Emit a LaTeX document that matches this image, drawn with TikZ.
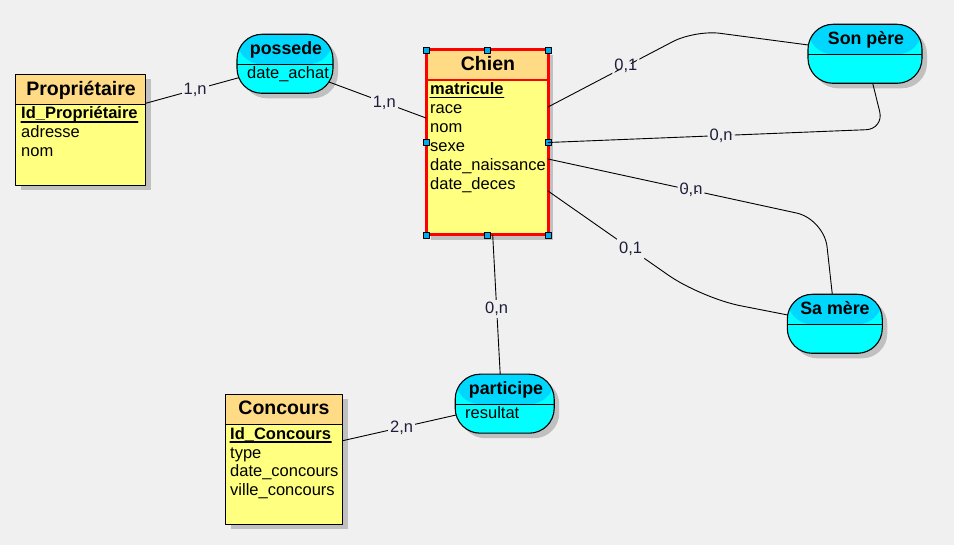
\documentclass[tikz,border=0pt]{standalone}
\usepackage{fontspec}
\setmainfont{Liberation Sans}
\usepackage{tikz}
\definecolor{pagebg}{HTML}{F0F0F0}
\definecolor{enthead}{HTML}{FFDB85}
\definecolor{entbody}{HTML}{FFFF80}
\definecolor{relhead}{HTML}{00D7FF}
\definecolor{relbody}{HTML}{00FFFF}
\definecolor{shade}{HTML}{C0C0C0}
\definecolor{cardtext}{HTML}{1E1E3C}
\pgfdeclarelayer{paper}
\pgfdeclarelayer{shadow}
\pgfsetlayers{paper,shadow,main}

\newcommand{\entfont}{\fontsize{19.5}{22}\selectfont\bfseries}
\newcommand{\relfont}{\fontsize{17.8}{20}\selectfont\bfseries}
\newcommand{\attfont}{\fontsize{16.5}{19}\selectfont}

\begin{document}
\begin{tikzpicture}[line cap=round,line join=round,x=1pt,y=-1pt,
    box/.style={draw=black,line width=1.1pt,inner sep=0pt,outer sep=0pt,fill=#1},
    entity/.style={box=entbody,
        path picture={\fill[enthead] (path picture bounding box.north west) rectangle ([yshift=-30pt]path picture bounding box.north east);
            \draw[line width=1.1pt] ([yshift=-30pt]path picture bounding box.north west) -- ([yshift=-30pt]path picture bounding box.north east);}},
    relation/.style={box=relbody,rounded corners=25pt,minimum height=59pt,
        path picture={\fill[relhead] (path picture bounding box.north west) rectangle ([yshift=-30pt]path picture bounding box.north east);
            \draw[line width=1.1pt] ([yshift=-30pt]path picture bounding box.north west) -- ([yshift=-30pt]path picture bounding box.north east);}},
    ename/.style={anchor=base,inner sep=0pt,font=\entfont},
    rname/.style={anchor=base,inner sep=0pt,font=\relfont},
    attr/.style={anchor=base west,inner sep=0pt,font=\attfont},
    keyattr/.style={attr,font=\attfont\bfseries},
    keyline/.style={line width=1.2pt},
    handle/.style={fill=cyan,draw=black,line width=0.8pt},
    shadowfill/.style={fill=shade},
    link/.style={draw=black,line width=0.9pt},
    card/.style={fill=pagebg,inner sep=2pt,font=\attfont,text=cardtext}]

    \useasboundingbox (0,0) rectangle (954,545);
    \begin{pgfonlayer}{paper}
        \fill[pagebg] (0,0) rectangle (954,545);
    \end{pgfonlayer}
	%\draw [step=10pt] (0,0) grid (954,545);

    % entites
    \node[entity,minimum width=130pt,minimum height=111pt] (prop) at (80.7,129.7) {};
    \node[ename] (prop-t) at (81,96) {Propriétaire};
    \node[keyattr] (prop-k) at (21,119) {Id\_Propriétaire};
    \draw[keyline] ([yshift=-3pt]prop-k.base west) -- ([yshift=-3pt]prop-k.base east);
    \node[attr] (prop-a1) at (21,138) {adresse};
    \node[attr] (prop-a2) at (21,157) {nom};

    \node[entity,draw=red,line width=3pt,minimum width=122pt,minimum height=185pt] (chien) at (487,142.5) {};
    \node[ename] (chien-t) at (488,71) {Chien};
    \node[keyattr] (chien-k) at (430,94.5) {matricule};
    \draw[keyline] ([yshift=-2.8pt]chien-k.base west) -- ([yshift=-2.8pt]chien-k.base east);
    \node[attr] (chien-a1) at (430,113.5) {race};
    \node[attr] (chien-a2) at (430,132.5) {nom};
    \node[attr] (chien-a3) at (430,151.5) {sexe};
    \node[attr] (chien-a4) at (430,170.5) {date\_naissance};
    \node[attr] (chien-a5) at (430,189.5) {date\_deces};
    \foreach \a in {north west,north,north east,east,south east,south,south west,west}
        \filldraw[handle] ([xshift=-3pt,yshift=-3pt]chien.\a) rectangle +(6pt,6pt);

    \node[entity,minimum width=117pt,minimum height=130pt] (concours) at (284.2,459.2) {};
    \node[ename] (concours-t) at (284,415) {Concours};
    \node[keyattr] (concours-k) at (230,439) {Id\_Concours};
    \draw[keyline] ([yshift=-3pt]concours-k.base west) -- ([yshift=-3pt]concours-k.base east);
    \node[attr] (concours-a1) at (230,458) {type};
    \node[attr] (concours-a2) at (230,477) {date\_concours};
    \node[attr] (concours-a3) at (230,496) {ville\_concours};

    % associations
    \node[relation,minimum width=96pt] (possede) at (285,63.8) {};
    \node[rname] (possede-t) at (286,55) {possede};
    \node[attr] (possede-a1) at (247,79) {date\_achat};

    \node[relation,minimum width=114pt] (pere) at (865,53.8) {};
    \node[rname] (pere-t) at (866,45) {Son père};

    \node[relation,minimum width=95pt] (mere) at (834.8,323.8) {};
    \node[rname] (mere-t) at (835,315) {Sa mère};

    \node[relation,minimum width=99pt] (participe) at (504.7,403.7) {};
    \node[rname] (participe-t) at (506,395) {participe};
    \node[attr] (participe-a1) at (465,419) {resultat};

    % ombres
    \begin{pgfonlayer}{shadow}
        \foreach \n in {prop,chien,concours}
            \fill[shadowfill] ([shift={(5pt,-5pt)}]\n.south west) rectangle ([shift={(5pt,-5pt)}]\n.north east);
        \foreach \n in {possede,pere,mere,participe}
            \fill[shadowfill,rounded corners=25pt] ([shift={(5pt,-5pt)}]\n.south west) rectangle ([shift={(5pt,-5pt)}]\n.north east);
    \end{pgfonlayer}

    % liens
    \draw[link] ([yshift=26.4pt]prop.east) -- node[card,pos=0.53] (c1) {1,n} ([xshift=-46.2pt,yshift=-13.9pt]possede.center);
    \draw[link] ([xshift=44pt,yshift=-18.2pt]possede.center) -- node[card,pos=0.57] (c2) {1,n} ([yshift=24.5pt]chien.west);
    \draw[link,rounded corners=25pt] ([yshift=35.5pt]chien.east) -- node[card,pos=0.53] (c3) {0,1} (695,30) -- ([xshift=-56.6pt,yshift=8.8pt]pere.center);
    \draw[link,rounded corners=18pt] (chien.east) -- node[card,pos=0.515] (c4) {0,n} (884,129) -- ([xshift=7.7pt]pere.south);
    \draw[link,rounded corners=28pt] ([yshift=-16.5pt]chien.east) -- node[card,pos=0.518] (c5) {0,n} (824,219) -- ([xshift=-2.5pt]mere.north);
    \draw[link,rounded corners=40pt] ([yshift=-48.5pt]chien.east) -- node[card,pos=0.54] (c6) {0,1} (701,298) -- ([xshift=-47.1pt,yshift=8.8pt]mere.center);
    \draw[link] ([xshift=5.7pt]chien.south) -- node[card,pos=0.53] (c7) {0,n} ([xshift=-4.5pt]participe.north);
    \draw[link] ([yshift=18.5pt]concours.east) -- node[card,pos=0.52] (c8) {2,n} ([xshift=-48.6pt,yshift=-11.3pt]participe.center);
\end{tikzpicture}
\end{document}
